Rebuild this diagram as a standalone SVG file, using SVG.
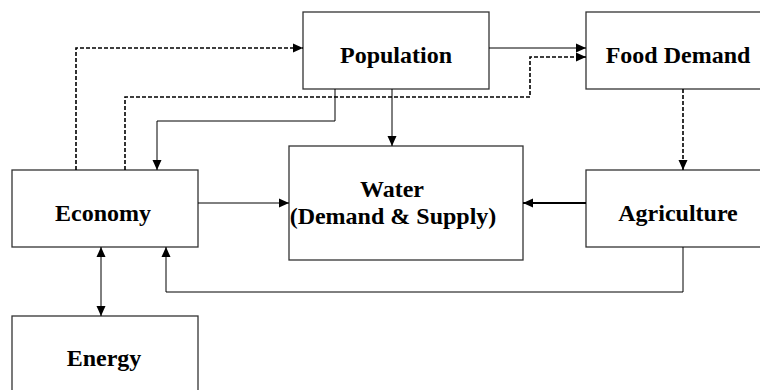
<svg xmlns="http://www.w3.org/2000/svg" width="760" height="390" viewBox="0 0 760 390">
<style>
.box{fill:#fff;stroke:#333;stroke-width:1.3}
.lbl{font-family:"Liberation Serif","Times New Roman",serif;font-weight:bold;font-size:24px;fill:#000;text-anchor:middle}
.ln{fill:none;stroke:#000;stroke-width:1}
.dash{fill:none;stroke:#000;stroke-width:1.6;stroke-dasharray:4,2}
.thick{fill:none;stroke:#000;stroke-width:2}
</style>
<defs>
<marker id="ah" markerUnits="userSpaceOnUse" markerWidth="11" markerHeight="10" refX="10" refY="5" orient="auto-start-reverse" viewBox="0 0 11 10">
<path d="M0,0.5 L10,5 L0,9.5 z" fill="#000"/>
</marker>
</defs>
<rect width="760" height="390" fill="#fff"/>
<g id="population"><rect class="box" x="303" y="12" width="186" height="77"/><text class="lbl" x="396" y="63">Population</text></g>
<g id="food-demand"><rect class="box" x="586" y="12" width="184" height="77"/><text class="lbl" x="678" y="63">Food Demand</text></g>
<g id="economy"><rect class="box" x="12" y="170" width="186" height="77"/><text class="lbl" x="103" y="221">Economy</text></g>
<g id="water"><rect class="box" x="289" y="146" width="234" height="114"/><text class="lbl" x="392" y="197">Water</text><text class="lbl" x="393" y="224">(Demand &amp; Supply)</text></g>
<g id="agriculture"><rect class="box" x="586" y="170" width="184" height="77"/><text class="lbl" x="678" y="221">Agriculture</text></g>
<g id="energy"><rect class="box" x="12" y="316" width="186" height="90"/><text class="lbl" x="104" y="366">Energy</text></g>
<g id="connectors">
<path class="dash" d="M76,170 V48 H303" marker-end="url(#ah)"/>
<path class="dash" d="M125,170 V97 H530 V57 H586" marker-end="url(#ah)"/>
<path class="ln" d="M335,89 V121 H157 V170" marker-end="url(#ah)"/>
<path class="ln" d="M489,48 H586" marker-end="url(#ah)"/>
<path class="ln" d="M392,89 V146" marker-end="url(#ah)"/>
<path class="dash" d="M683,89 V170" marker-end="url(#ah)"/>
<path class="thick" d="M586,203 H523" marker-end="url(#ah)"/>
<path class="ln" d="M198,203 H289" marker-end="url(#ah)"/>
<path class="ln" d="M683,247 V292 H166 V247" marker-end="url(#ah)"/>
<path class="ln" d="M101,247 V316" marker-start="url(#ah)" marker-end="url(#ah)"/>
</g>
</svg>
